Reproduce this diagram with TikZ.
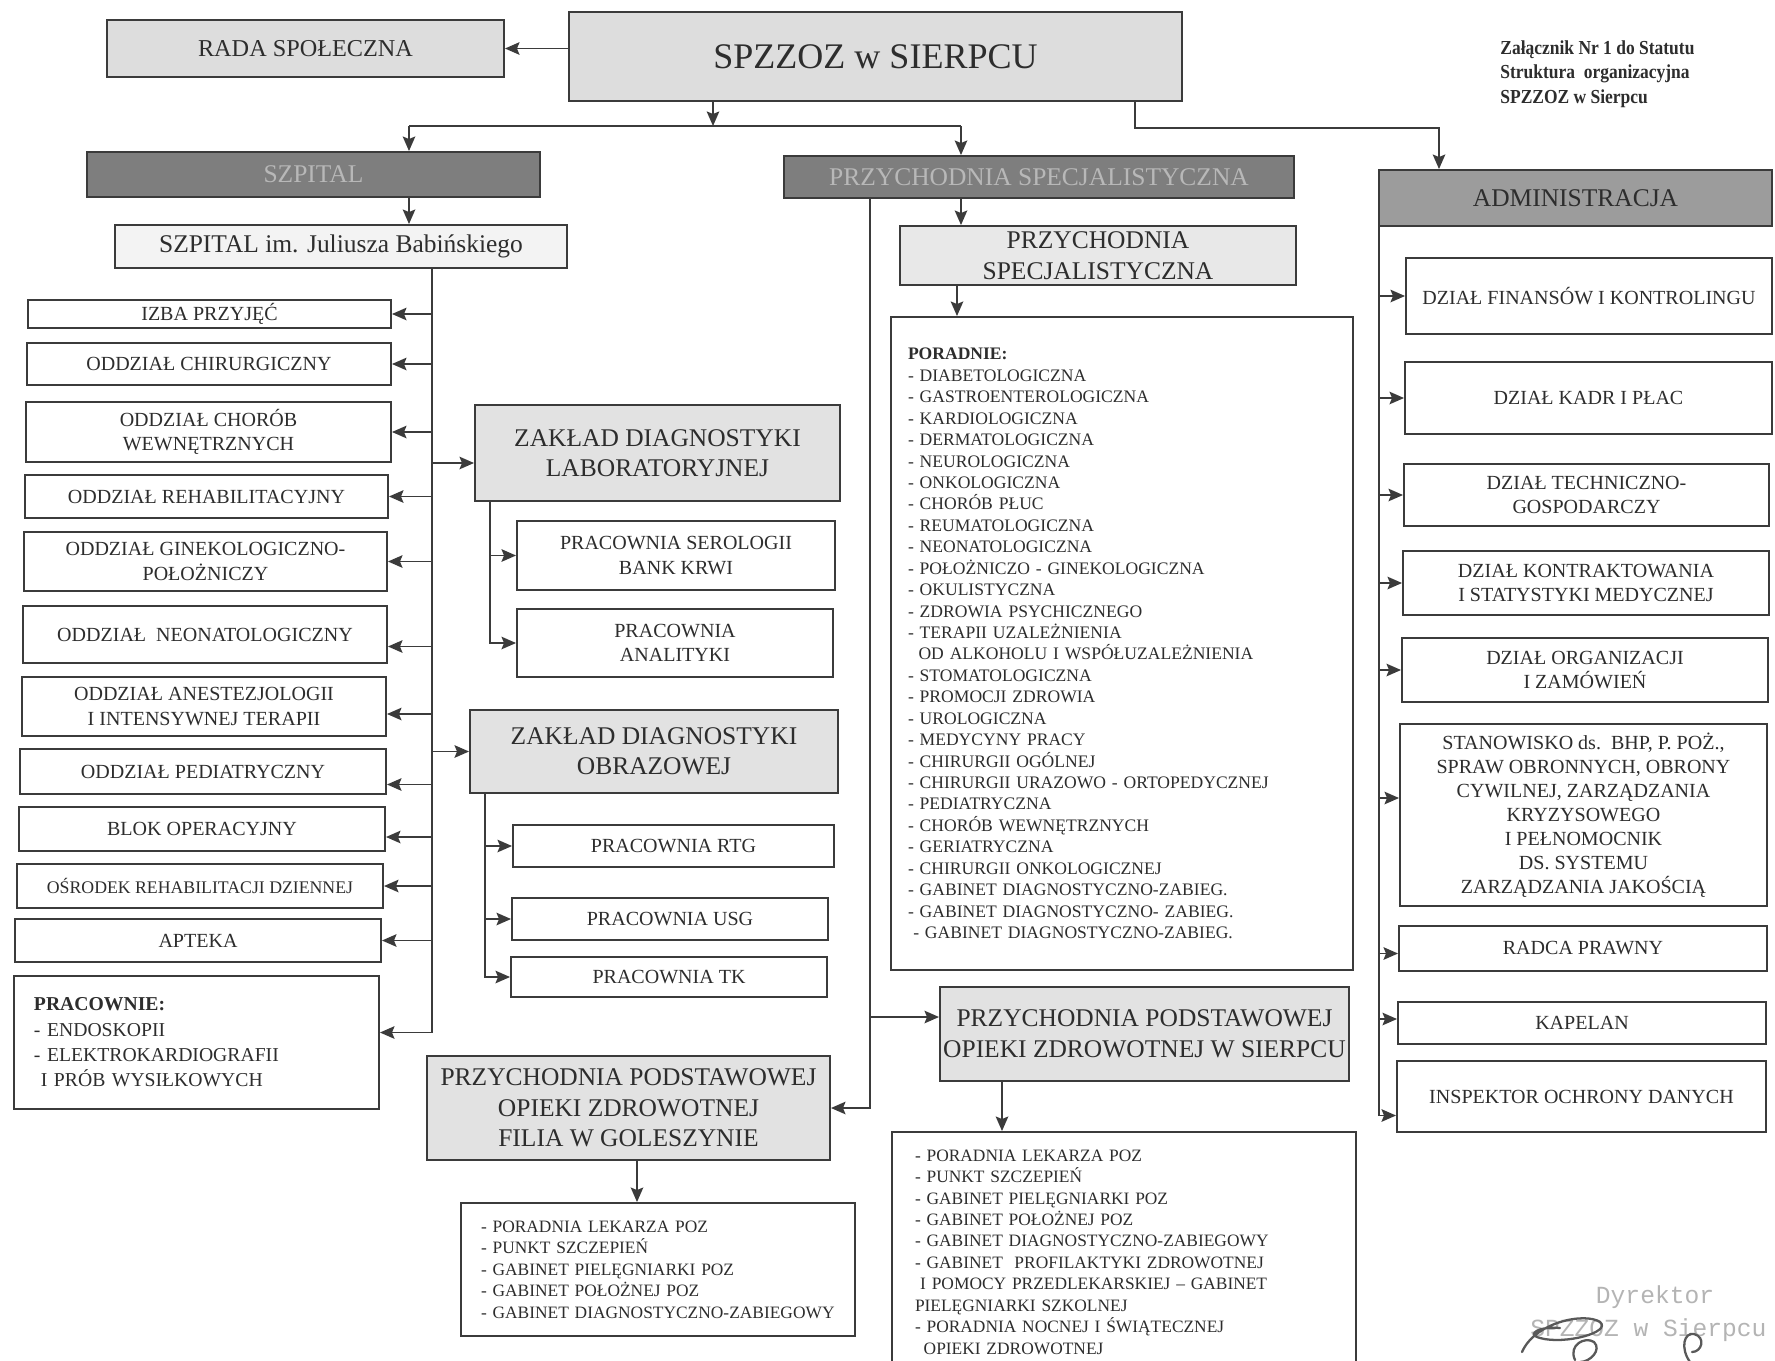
\documentclass[tikz,border=0pt]{standalone}
\usepackage{fontspec}
\setmainfont{Liberation Serif}
\newfontfamily\stampfont{Liberation Mono}
\newfontfamily\notefont[FakeStretch=0.88]{Liberation Serif}
\usetikzlibrary{arrows.meta}

\definecolor{ln}{HTML}{3B3B3B}
\definecolor{tx}{HTML}{2D2D2D}
\definecolor{liteA}{HTML}{DDDDDD}
\definecolor{liteB}{HTML}{F3F3F3}
\definecolor{liteC}{HTML}{E8E8E8}
\definecolor{liteD}{HTML}{E2E2E2}
\definecolor{dk}{HTML}{7E7E7E}
\definecolor{dktx}{HTML}{B8B8B8}
\definecolor{md}{HTML}{9C9C9C}
\definecolor{stampc}{HTML}{B4B4B4}

\newcommand\ftitle{\fontsize{20.5}{24}\selectfont}
\newcommand\fbig{\fontsize{14.5}{17}\selectfont}
\newcommand\fmed{\fontsize{11.4}{14}\selectfont}
\newcommand\fsml{\fontsize{9.9}{12.2}\selectfont}

% name, x1, y1, x2, y2, style, text
\newcommand\mkbox[7]{%
  \pgfmathsetmacro\mybw{(#4-#2)*0.02}%
  \pgfmathsetmacro\mybh{(#5-#3)*0.02}%
  \node[#6, minimum width=\mybw cm, minimum height=\mybh cm] (#1) at ({(#2+#4)/2},{(#3+#5)/2}) {#7};}
% name, x1, y1, x2, y2, pad, style, text
\newcommand\mklist[8]{%
  \pgfmathsetmacro\mybw{(#4-#2-2*#6)*0.02}%
  \pgfmathsetmacro\mybh{(#5-#3)*0.02}%
  \pgfmathsetmacro\mypad{#6*0.02}%
  \node[#7, text width=\mybw cm, inner xsep=\mypad cm, minimum height=\mybh cm] (#1) at ({(#2+#4)/2},{(#3+#5)/2}) {#8};}

\tikzset{
  base/.style={draw=ln, line width=1.1pt, text=tx, inner sep=1pt, align=center},
  wbox/.style={base, fill=white, font=\fmed},
  lbox/.style={base, fill=white, font=\fsml, align=left},
  topbox/.style={base, fill=liteA, font=\fbig},
  darkbox/.style={base, fill=dk, text=dktx, font=\fbig},
  admbox/.style={base, fill=md, font=\fbig},
  paleB/.style={base, fill=liteB, font=\fbig},
  paleC/.style={base, fill=liteC, font=\fbig},
  paleD/.style={base, fill=liteD, font=\fbig},
  conn/.style={draw=ln, line width=1.1pt},
  arr/.style={draw=ln, line width=1.1pt, -{Stealth[length=0.29cm,width=0.25cm,inset=0.05cm]}},
  sig/.style={draw=black!65, line width=1.3pt, line cap=round},
}

\begin{document}
\begin{tikzpicture}[x=0.02cm,y=-0.02cm]
\fill[white] (0,0) rectangle (1775,1360);
\useasboundingbox (0,0) rectangle (1775,1360);

% ---------- top ----------
\mkbox{rada}{107}{20}{504}{77}{topbox,font=\fontsize{13.8}{16}\selectfont}{RADA SPOŁECZNA}
\mkbox{spz}{569}{12}{1182}{101}{topbox,font=\ftitle}{SPZZOZ w SIERPCU}
\node[anchor=north west, align=left, inner sep=0pt, text=tx,
      font=\notefont\bfseries\fontsize{11.3}{14}\selectfont] (note) at (1500,40)
  {Załącznik Nr 1 do Statutu\\Struktura\ \ organizacyjna\\SPZZOZ w Sierpcu};

% ---------- level 1 ----------
\mkbox{szp}{87}{152}{540}{197}{darkbox}{SZPITAL}
\mkbox{psd}{784}{156}{1294}{198}{darkbox}{PRZYCHODNIA SPECJALISTYCZNA}
\mkbox{adm}{1379}{170}{1772}{226}{admbox}{ADMINISTRACJA}

\mkbox{szpim}{115}{225}{567}{268}{paleB}{SZPITAL im. Juliusza Babińskiego}
\mkbox{psl}{900}{226}{1296}{285}{paleC,font=\fontsize{14.5}{17.8}\selectfont}{PRZYCHODNIA\\SPECJALISTYCZNA}

% ---------- hospital departments ----------
\mkbox{izba}{28}{300}{391}{328}{wbox}{IZBA PRZYJĘĆ}
\mkbox{chir}{27}{343}{391}{385}{wbox}{ODDZIAŁ CHIRURGICZNY}
\mkbox{chor}{26}{402}{391}{462}{wbox}{ODDZIAŁ CHORÓB\\WEWNĘTRZNYCH}
\mkbox{rehab}{25}{475}{388}{518}{wbox}{ODDZIAŁ REHABILITACYJNY}
\mkbox{gin}{24}{532}{387}{591}{wbox}{ODDZIAŁ GINEKOLOGICZNO-\\POŁOŻNICZY}
\mkbox{neo}{23}{606}{387}{663}{wbox}{ODDZIAŁ\ \ NEONATOLOGICZNY}
\mkbox{anest}{22}{677}{386}{736}{wbox}{ODDZIAŁ ANESTEZJOLOGII\\I INTENSYWNEJ TERAPII}
\mkbox{ped}{20}{749}{386}{794}{wbox}{ODDZIAŁ PEDIATRYCZNY}
\mkbox{blok}{19}{807}{385}{851}{wbox}{BLOK OPERACYJNY}
\mkbox{osr}{17}{864}{383}{908}{wbox,font=\fontsize{10.1}{12}\selectfont}{OŚRODEK REHABILITACJI DZIENNEJ}
\mkbox{apt}{15}{919}{381}{962}{wbox}{APTEKA}
\mklist{prac}{14}{976}{379}{1109}{20}{lbox,font=\fontsize{11.2}{14.45}\selectfont}
  {\textbf{PRACOWNIE:}\\- ENDOSKOPII\\- ELEKTROKARDIOGRAFII\\\hspace*{0.35em}I PRÓB WYSIŁKOWYCH}

% ---------- diagnostics ----------
\mkbox{lab}{475}{405}{840}{501}{paleD,font=\fontsize{14.5}{16.8}\selectfont}{ZAKŁAD DIAGNOSTYKI\\LABORATORYJNEJ}
\mkbox{serol}{517}{521}{835}{590}{wbox}{PRACOWNIA SEROLOGII\\BANK KRWI}
\mkbox{anal}{517}{609}{833}{677}{wbox}{PRACOWNIA\\ANALITYKI}
\mkbox{obraz}{470}{710}{838}{793}{paleD,font=\fontsize{14.5}{16.8}\selectfont}{ZAKŁAD DIAGNOSTYKI\\OBRAZOWEJ}
\mkbox{rtg}{513}{825}{834}{867}{wbox}{PRACOWNIA RTG}
\mkbox{usg}{512}{898}{828}{940}{wbox}{PRACOWNIA USG}
\mkbox{tk}{511}{957}{827}{997}{wbox}{PRACOWNIA TK}

% ---------- outpatient ----------
\mklist{por}{891}{317}{1353}{970}{17}{lbox,font=\fontsize{10}{12.2}\selectfont}
  {\textbf{PORADNIE:}\\
   - DIABETOLOGICZNA\\
   - GASTROENTEROLOGICZNA\\
   - KARDIOLOGICZNA\\
   - DERMATOLOGICZNA\\
   - NEUROLOGICZNA\\
   - ONKOLOGICZNA\\
   - CHORÓB PŁUC\\
   - REUMATOLOGICZNA\\
   - NEONATOLOGICZNA\\
   - POŁOŻNICZO - GINEKOLOGICZNA\\
   - OKULISTYCZNA\\
   - ZDROWIA PSYCHICZNEGO\\
   - TERAPII UZALEŻNIENIA\\
   \hspace*{0.6em}OD ALKOHOLU I WSPÓŁUZALEŻNIENIA\\
   - STOMATOLOGICZNA\\
   - PROMOCJI ZDROWIA\\
   - UROLOGICZNA\\
   - MEDYCYNY PRACY\\
   - CHIRURGII OGÓLNEJ\\
   - CHIRURGII URAZOWO - ORTOPEDYCZNEJ\\
   - PEDIATRYCZNA\\
   - CHORÓB WEWNĘTRZNYCH\\
   - GERIATRYCZNA\\
   - CHIRURGII ONKOLOGICZNEJ\\
   - GABINET DIAGNOSTYCZNO-ZABIEG.\\
   - GABINET DIAGNOSTYCZNO- ZABIEG.\\
   \hspace*{0.3em}- GABINET DIAGNOSTYCZNO-ZABIEG.}

\mkbox{gol}{427}{1056}{830}{1160}{paleD,font=\fontsize{14.5}{17.4}\selectfont}{PRZYCHODNIA PODSTAWOWEJ\\OPIEKI ZDROWOTNEJ\\FILIA W GOLESZYNIE}
\mkbox{sier}{940}{987}{1349}{1081}{paleD,inner sep=0pt,font=\fontsize{14.5}{17.6}\selectfont}{PRZYCHODNIA PODSTAWOWEJ\\OPIEKI ZDROWOTNEJ W SIERPCU}

\mklist{goll}{461}{1203}{855}{1336}{20}{lbox}
  {- PORADNIA LEKARZA POZ\\- PUNKT SZCZEPIEŃ\\- GABINET PIELĘGNIARKI POZ\\- GABINET POŁOŻNEJ POZ\\- GABINET DIAGNOSTYCZNO-ZABIEGOWY}
\mklist{sl}{892}{1132}{1356}{1372}{23}{lbox}
  {- PORADNIA LEKARZA POZ\\
   - PUNKT SZCZEPIEŃ\\
   - GABINET PIELĘGNIARKI POZ\\
   - GABINET POŁOŻNEJ POZ\\
   - GABINET DIAGNOSTYCZNO-ZABIEGOWY\\
   - GABINET\ \ PROFILAKTYKI ZDROWOTNEJ\\
   \hspace*{0.3em}I POMOCY PRZEDLEKARSKIEJ – GABINET\\
   PIELĘGNIARKI SZKOLNEJ\\
   - PORADNIA NOCNEJ I ŚWIĄTECZNEJ\\
   \hspace*{0.5em}OPIEKI ZDROWOTNEJ}

% ---------- administration ----------
\mkbox{fin}{1406}{258}{1772}{334}{wbox}{DZIAŁ FINANSÓW I KONTROLINGU}
\mkbox{kadr}{1405}{362}{1772}{434}{wbox}{DZIAŁ KADR I PŁAC}
\mkbox{tech}{1404}{464}{1769}{526}{wbox}{DZIAŁ TECHNICZNO-\\GOSPODARCZY}
\mkbox{kontr}{1403}{551}{1769}{615}{wbox}{DZIAŁ KONTRAKTOWANIA\\I STATYSTYKI MEDYCZNEJ}
\mkbox{org}{1402}{638}{1768}{702}{wbox}{DZIAŁ ORGANIZACJI\\I ZAMÓWIEŃ}
\mkbox{stan}{1400}{724}{1767}{906}{wbox,font=\fontsize{11.4}{13.7}\selectfont}{STANOWISKO ds.\ \ BHP, P. POŻ.,\\SPRAW OBRONNYCH, OBRONY\\CYWILNEJ, ZARZĄDZANIA\\KRYZYSOWEGO\\I PEŁNOMOCNIK\\DS. SYSTEMU\\ZARZĄDZANIA JAKOŚCIĄ}
\mkbox{radca}{1399}{926}{1767}{971}{wbox}{RADCA PRAWNY}
\mkbox{kap}{1398}{1002}{1766}{1044}{wbox}{KAPELAN}
\mkbox{insp}{1397}{1061}{1766}{1132}{wbox}{INSPEKTOR OCHRONY DANYCH}

% ---------- connectors: top ----------
\coordinate (jL) at (409,126);
\coordinate (jM) at (713,126);
\coordinate (jR) at (961,126);
\coordinate (a1) at (1135,128);
\coordinate (a2) at (1439,128);
\draw[arr] (spz.west |- rada.east) -- (rada.east);
\draw[arr] (spz.south -| jM) -- (jM);
\draw[conn] (jL) -- (jR);
\draw[arr] (jL) -- (szp.north -| jL);
\draw[arr] (jR) -- (psd.north -| jR);
\draw[arr] (spz.south -| a1) -- (a1) -- (a2) -- (adm.north -| a2);
\draw[arr] (szp.south -| jL) -- (szpim.north -| jL);
\draw[arr] (psd.south -| jR) -- (psl.north -| jR);

% ---------- connectors: hospital ----------
\coordinate (sL) at (432,1032);
\coordinate (neoA) at ([yshift=-0.24cm]neo.east);
\coordinate (anestA) at ([yshift=-0.15cm]anest.east);
\coordinate (pedA) at ([yshift=-0.26cm]ped.east);
\coordinate (blokA) at ([yshift=-0.16cm]blok.east);
\coordinate (pracA) at ([yshift=0.2cm]prac.east);
\coordinate (labA) at ([yshift=-0.2cm]lab.west);
\draw[conn] (szpim.south -| sL) -- (sL |- pracA);
\foreach \b in {izba,chir,chor,rehab,gin,osr,apt}
  \draw[arr] (sL |- \b.east) -- (\b.east);
\foreach \b in {neoA,anestA,pedA,blokA,pracA}
  \draw[arr] (sL |- \b) -- (\b);
\draw[arr] (sL |- labA) -- (labA);
\draw[arr] (sL |- obraz.west) -- (obraz.west);

\coordinate (lb) at (490,0);
\draw[arr] (lab.south -| lb) |- (anal.west);
\draw[arr] (lb |- serol.west) -- (serol.west);
\coordinate (ob) at (485,0);
\draw[arr] (obraz.south -| ob) |- (tk.west);
\draw[arr] (ob |- rtg.west) -- (rtg.west);
\draw[arr] (ob |- usg.west) -- (usg.west);

% ---------- connectors: outpatient ----------
\coordinate (pa) at (957,0);
\draw[arr] (psl.south -| pa) -- (por.north -| pa);
\coordinate (sM) at (870,0);
\coordinate (sierA) at ([yshift=0.34cm]sier.west);
\draw[arr] (psd.south -| sM) |- (gol.east);
\draw[arr] (sM |- sierA) -- (sierA);
\coordinate (ga) at (637,0);
\draw[arr] (gol.south -| ga) -- (goll.north -| ga);
\coordinate (sa) at (1002,0);
\draw[arr] (sier.south -| sa) -- (sl.north -| sa);

% ---------- connectors: administration ----------
\coordinate (sR) at (1379,0);
\coordinate (stanA) at ([yshift=0.34cm]stan.west);
\coordinate (radcaA) at ([yshift=-0.1cm]radca.west);
\coordinate (kapA) at ([yshift=0.08cm]kap.west);
\coordinate (inspA) at ([yshift=-0.38cm]insp.west);
\draw[arr] (adm.south -| sR) |- (inspA);
\foreach \b in {fin,kadr,tech,kontr,org}
  \draw[arr] (sR |- \b.west) -- (\b.west);
\foreach \b in {stanA,radcaA,kapA}
  \draw[arr] (sR |- \b) -- (\b);

% ---------- stamp and signature ----------
\node[text=stampc, font=\stampfont\fontsize{14}{16}\selectfont, inner sep=0pt] (dyr) at (1655,1297) {Dyrektor};
\node[text=stampc, font=\stampfont\fontsize{14}{16}\selectfont, inner sep=0pt, anchor=west] (dyr2) at (1530,1330) {SPZZOZ w Sierpcu};
\draw[sig] (1522,1352) .. controls (1535,1322) and (1585,1312) .. (1600,1322)
           .. controls (1612,1332) and (1565,1345) .. (1540,1338)
           .. controls (1525,1334) and (1540,1326) .. (1560,1328);
\draw[sig] (1575,1360) .. controls (1568,1345) and (1585,1336) .. (1594,1342)
           .. controls (1602,1350) and (1590,1362) .. (1580,1362);
\draw[sig] (1690,1362) .. controls (1680,1348) and (1684,1332) .. (1694,1334)
           .. controls (1706,1337) and (1702,1352) .. (1692,1352);
\end{tikzpicture}
\end{document}
